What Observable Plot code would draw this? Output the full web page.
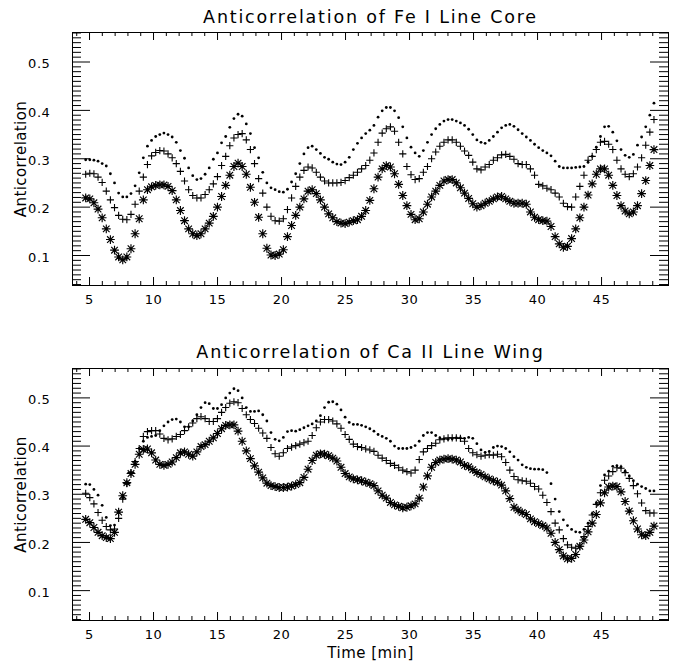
<!DOCTYPE html>
<html>
<head>
<meta charset="utf-8">
<script src="https://cdn.jsdelivr.net/npm/d3@7"></script>
<script src="https://cdn.jsdelivr.net/npm/@observablehq/plot@0.6"></script>
<style>
  html, body { margin: 0; padding: 0; background: #fff; }
  #chart svg { display: block; }
</style>
</head>
<body>
<div id="chart"></div>
<script>
// ---- sampling of the time axis (minutes) ----
const tStart = 4.70;
const tStep = 0.3217;

// ---- titles / labels ----
const titles = ["Anticorrelation of Fe I Line Core", "Anticorrelation of Ca II Line Wing"];
const yLabel = "Anticorrelation";
const xLabel = "Time [min]";
const xTicks = [5, 10, 15, 20, 25, 30, 35, 40, 45];
const yTicks = [0.1, 0.2, 0.3, 0.4, 0.5];

// ---- Fe I line core (top panel) ----
const feDots = [
  0.298,0.298,0.297,0.295,0.290,0.285,0.269,0.250,0.229,0.221,
  0.221,0.228,0.244,0.271,0.302,0.326,0.338,0.346,0.350,0.353,
  0.350,0.345,0.334,0.317,0.301,0.281,0.265,0.257,0.259,0.268,
  0.281,0.299,0.312,0.333,0.346,0.365,0.383,0.392,0.388,0.372,
  0.352,0.323,0.302,0.272,0.250,0.240,0.236,0.232,0.231,0.237,
  0.252,0.269,0.290,0.310,0.323,0.326,0.319,0.311,0.303,0.299,
  0.293,0.289,0.288,0.293,0.303,0.319,0.332,0.343,0.352,0.359,
  0.369,0.386,0.399,0.406,0.406,0.399,0.385,0.366,0.343,0.324,
  0.312,0.305,0.317,0.334,0.350,0.362,0.371,0.378,0.381,0.381,
  0.378,0.374,0.369,0.361,0.350,0.339,0.334,0.332,0.338,0.346,
  0.355,0.364,0.369,0.371,0.367,0.360,0.352,0.345,0.338,0.330,
  0.323,0.317,0.312,0.306,0.295,0.284,0.281,0.281,0.281,0.282,
  0.283,0.284,0.293,0.305,0.324,0.346,0.366,0.367,0.355,0.337,
  0.319,0.307,0.303,0.309,0.328,0.345,0.366,0.390,0.415
];
const fePlus = [
  0.268,0.270,0.269,0.262,0.251,0.233,0.215,0.199,0.183,0.175,
  0.174,0.185,0.206,0.233,0.262,0.288,0.306,0.313,0.317,0.316,
  0.310,0.302,0.290,0.274,0.254,0.236,0.224,0.219,0.219,0.226,
  0.236,0.248,0.263,0.286,0.305,0.327,0.343,0.350,0.352,0.339,
  0.319,0.290,0.259,0.229,0.200,0.181,0.172,0.171,0.176,0.195,
  0.219,0.243,0.262,0.276,0.283,0.281,0.272,0.262,0.254,0.250,
  0.250,0.250,0.251,0.255,0.261,0.266,0.272,0.279,0.286,0.297,
  0.312,0.334,0.353,0.362,0.366,0.357,0.334,0.310,0.284,0.267,
  0.257,0.259,0.272,0.284,0.300,0.314,0.326,0.334,0.339,0.339,
  0.334,0.326,0.316,0.307,0.293,0.279,0.277,0.283,0.288,0.297,
  0.302,0.308,0.309,0.305,0.299,0.290,0.288,0.288,0.279,0.266,
  0.247,0.244,0.239,0.236,0.229,0.221,0.208,0.201,0.200,0.221,
  0.243,0.266,0.297,0.305,0.319,0.334,0.336,0.330,0.319,0.297,
  0.279,0.268,0.263,0.269,0.283,0.302,0.328,0.355,0.381
];
const feStar = [
  0.219,0.217,0.209,0.196,0.178,0.155,0.133,0.111,0.097,0.091,
  0.097,0.114,0.145,0.176,0.215,0.236,0.242,0.245,0.246,0.246,
  0.243,0.234,0.215,0.193,0.172,0.155,0.145,0.141,0.145,0.155,
  0.167,0.181,0.200,0.222,0.245,0.266,0.284,0.291,0.284,0.268,
  0.241,0.210,0.179,0.145,0.115,0.101,0.100,0.103,0.112,0.139,
  0.162,0.183,0.200,0.217,0.233,0.236,0.228,0.215,0.200,0.186,
  0.178,0.170,0.167,0.166,0.169,0.172,0.174,0.181,0.193,0.214,
  0.238,0.262,0.279,0.286,0.283,0.269,0.247,0.224,0.203,0.185,
  0.174,0.176,0.190,0.206,0.221,0.233,0.245,0.254,0.257,0.257,
  0.250,0.240,0.229,0.218,0.207,0.200,0.203,0.208,0.212,0.217,
  0.221,0.222,0.217,0.212,0.208,0.208,0.208,0.206,0.190,0.179,
  0.174,0.172,0.171,0.160,0.139,0.124,0.117,0.119,0.135,0.155,
  0.178,0.200,0.225,0.248,0.268,0.279,0.279,0.266,0.245,0.224,
  0.203,0.192,0.186,0.190,0.203,0.228,0.255,0.286,0.319
];

// ---- Ca II line wing (bottom panel) ----
const caDots = [
  0.321,0.320,0.310,0.298,0.277,0.252,0.235,0.236,0.265,0.293,
  0.322,0.345,0.368,0.395,0.410,0.418,0.420,0.422,0.432,0.442,
  0.450,0.455,0.456,0.450,0.440,0.440,0.452,0.465,0.480,0.490,
  0.488,0.478,0.478,0.486,0.500,0.510,0.519,0.515,0.500,0.480,
  0.472,0.472,0.473,0.465,0.452,0.428,0.414,0.411,0.418,0.430,
  0.432,0.431,0.434,0.438,0.442,0.446,0.452,0.463,0.480,0.491,
  0.492,0.487,0.475,0.460,0.449,0.445,0.445,0.443,0.440,0.436,
  0.431,0.424,0.420,0.416,0.410,0.400,0.395,0.395,0.395,0.397,
  0.401,0.410,0.422,0.428,0.428,0.422,0.417,0.415,0.414,0.415,
  0.417,0.417,0.416,0.418,0.416,0.405,0.392,0.387,0.389,0.397,
  0.400,0.399,0.395,0.388,0.378,0.371,0.361,0.356,0.353,0.352,
  0.352,0.351,0.345,0.322,0.290,0.264,0.247,0.235,0.227,0.222,
  0.221,0.227,0.240,0.260,0.282,0.318,0.340,0.348,0.358,0.359,
  0.357,0.348,0.338,0.328,0.321,0.316,0.312,0.307,0.307
];
const caPlus = [
  0.302,0.293,0.280,0.262,0.246,0.233,0.226,0.228,0.250,0.290,
  0.322,0.345,0.368,0.395,0.420,0.430,0.432,0.432,0.425,0.416,
  0.413,0.415,0.420,0.424,0.432,0.440,0.448,0.457,0.461,0.457,
  0.451,0.451,0.457,0.470,0.480,0.489,0.492,0.490,0.478,0.465,
  0.455,0.447,0.437,0.427,0.416,0.397,0.384,0.379,0.386,0.395,
  0.398,0.401,0.404,0.407,0.410,0.422,0.438,0.450,0.455,0.455,
  0.452,0.446,0.437,0.424,0.414,0.404,0.399,0.397,0.394,0.392,
  0.389,0.381,0.375,0.370,0.364,0.360,0.355,0.350,0.347,0.344,
  0.350,0.372,0.388,0.395,0.401,0.406,0.413,0.415,0.417,0.417,
  0.417,0.416,0.410,0.395,0.386,0.382,0.379,0.381,0.382,0.381,
  0.383,0.378,0.366,0.350,0.337,0.330,0.328,0.327,0.323,0.316,
  0.311,0.298,0.283,0.264,0.240,0.226,0.208,0.195,0.190,0.188,
  0.192,0.212,0.233,0.257,0.279,0.303,0.329,0.338,0.347,0.355,
  0.354,0.345,0.333,0.318,0.301,0.282,0.266,0.261,0.261
];
const caStar = [
  0.248,0.241,0.231,0.221,0.214,0.210,0.208,0.221,0.263,0.297,
  0.324,0.343,0.362,0.383,0.393,0.394,0.386,0.371,0.362,0.360,
  0.362,0.367,0.376,0.386,0.388,0.383,0.379,0.388,0.399,0.403,
  0.410,0.417,0.426,0.436,0.443,0.444,0.444,0.431,0.410,0.390,
  0.374,0.359,0.346,0.334,0.323,0.318,0.316,0.314,0.314,0.315,
  0.317,0.320,0.324,0.335,0.352,0.370,0.381,0.384,0.383,0.380,
  0.375,0.369,0.356,0.343,0.336,0.332,0.330,0.328,0.325,0.322,
  0.318,0.307,0.298,0.292,0.283,0.278,0.275,0.272,0.273,0.276,
  0.280,0.292,0.315,0.338,0.356,0.366,0.371,0.373,0.374,0.373,
  0.371,0.367,0.360,0.357,0.351,0.345,0.341,0.336,0.332,0.328,
  0.325,0.319,0.307,0.291,0.273,0.267,0.262,0.258,0.249,0.243,
  0.239,0.235,0.230,0.219,0.200,0.185,0.172,0.166,0.167,0.175,
  0.192,0.205,0.222,0.240,0.258,0.282,0.303,0.315,0.317,0.316,
  0.305,0.285,0.265,0.245,0.228,0.216,0.214,0.221,0.234
];

// ---- helpers ----
const time = feDots.map((_, i) => tStart + i * tStep);
const xDomain = [3.67, 50.23];
const yDomain = [0.038, 0.561];
const xMinor = d3.range(4, 51).filter(v => v % 5 !== 0);
const yMinor = d3.range(4, 57).filter(v => v % 10 !== 0).map(v => v / 100);

const plusSymbol = {
  draw(ctx, size) {
    const r = Math.sqrt(size / Math.PI);
    ctx.moveTo(-r, 0); ctx.lineTo(r, 0);
    ctx.moveTo(0, -r); ctx.lineTo(0, r);
  }
};
const starSymbol = {
  draw(ctx, size) {
    const r = Math.sqrt(size / Math.PI);
    const q = r * 0.75;
    ctx.moveTo(-r, 0); ctx.lineTo(r, 0);
    ctx.moveTo(0, -r); ctx.lineTo(0, r);
    ctx.moveTo(-q, -q); ctx.lineTo(q, q);
    ctx.moveTo(-q, q); ctx.lineTo(q, -q);
  }
};

const FONT = "DejaVu Sans, Liberation Sans, sans-serif";

function styleTexts(svg) {
  svg.querySelectorAll("text").forEach(el => {
    const s = el.textContent;
    let size = 13, spacing = 0.6;
    if (titles.includes(s)) { size = 17.5; spacing = 1.8; }
    else if (s === yLabel) { size = 15; spacing = 0.4; }
    else if (s === xLabel) { size = 15; spacing = 0.5; }
    el.setAttribute("font-size", size);
    el.style.fontSize = size + "px";
    el.style.letterSpacing = spacing + "px";
  });
  return svg;
}

function panel({title, dots, plus, star, height, marginTop, marginBottom, showXLabel, titleDy}) {
  const width = 686, marginLeft = 72, marginRight = 18;
  const fw = width - marginLeft - marginRight;
  const fh = height - marginTop - marginBottom;
  const rows = time.map((t, i) => ({t, d: dots[i], p: plus[i], s: star[i]}));
  const marks = [
    Plot.frame({stroke: "black", strokeWidth: 1}),
    Plot.tickX(xMinor, {x: d => d, insetTop: fh - 4, stroke: "black"}),
    Plot.tickX(xTicks, {x: d => d, insetTop: fh - 8, stroke: "black"}),
    Plot.tickX(xMinor, {x: d => d, insetBottom: fh - 4, stroke: "black"}),
    Plot.tickX(xTicks, {x: d => d, insetBottom: fh - 8, stroke: "black"}),
    Plot.tickY(yMinor, {y: d => d, insetRight: fw - 9, stroke: "black"}),
    Plot.tickY(yTicks, {y: d => d, insetRight: fw - 18, stroke: "black"}),
    Plot.tickY(yMinor, {y: d => d, insetLeft: fw - 9, stroke: "black"}),
    Plot.tickY(yTicks, {y: d => d, insetLeft: fw - 18, stroke: "black"}),
    Plot.axisX(xTicks, {tickSize: 0, tickPadding: 9.5, fontSize: 13, label: null, tickFormat: d => String(d)}),
    Plot.axisY(yTicks, {tickSize: 0, tickPadding: 22, fontSize: 13, dy: 2, label: null, tickFormat: d => d.toFixed(1)}),
    Plot.text([title], {frameAnchor: "top", lineAnchor: "middle", textAnchor: "middle", dy: titleDy, text: d => d}),
    Plot.text([yLabel], {frameAnchor: "left", lineAnchor: "middle", textAnchor: "middle", dx: -51, rotate: -90, text: d => d}),
    Plot.dot(rows, {x: "t", y: "s", symbol: starSymbol, r: 4.4, fill: "none", stroke: "black", strokeWidth: 1.15}),
    Plot.dot(rows, {x: "t", y: "p", symbol: plusSymbol, r: 3.6, fill: "none", stroke: "black", strokeWidth: 1.1}),
    Plot.dot(rows, {x: "t", y: "d", r: 1.4, fill: "black", stroke: "none"})
  ];
  if (showXLabel) {
    marks.push(Plot.text([xLabel], {frameAnchor: "bottom", lineAnchor: "middle", textAnchor: "middle", dy: 32.2, text: d => d}));
  }
  const svg = Plot.plot({
    width, height, marginLeft, marginRight, marginTop, marginBottom,
    style: {fontFamily: FONT, fontSize: "13px", background: "white", color: "black", overflow: "visible"},
    x: {domain: xDomain, label: null},
    y: {domain: yDomain, label: null},
    marks
  });
  return styleTexts(svg);
}

const chart = document.getElementById("chart");
chart.append(
  panel({title: titles[0], dots: feDots, plus: fePlus, star: feStar,
    height: 330, marginTop: 32, marginBottom: 45, showXLabel: false, titleDy: -14.9}),
  panel({title: titles[1], dots: caDots, plus: caPlus, star: caStar,
    height: 341, marginTop: 38, marginBottom: 51, showXLabel: true, titleDy: -16.3})
);
</script>
</body>
</html>
